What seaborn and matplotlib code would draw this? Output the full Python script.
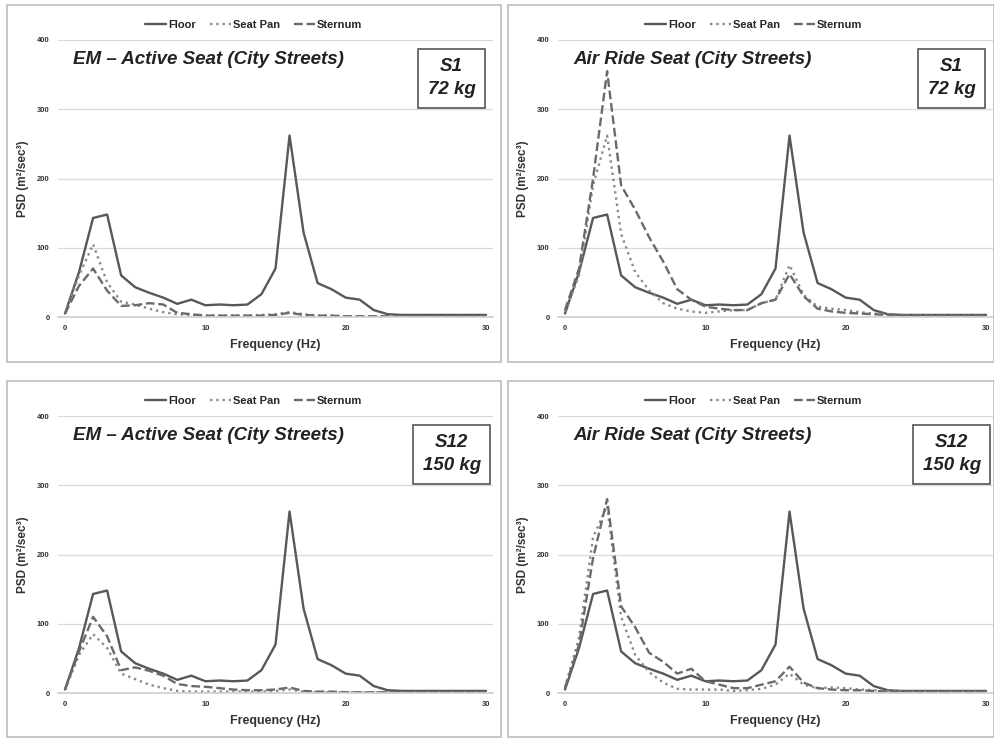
import numpy as np
import pandas as pd
import matplotlib.pyplot as plt
import seaborn as sns
from matplotlib.patches import Rectangle

freq = list(range(31))

floor = [5, 65, 143, 148, 60, 43, 35, 28, 19, 25, 17, 18, 17, 18, 33, 70,
         262, 122, 49, 40, 28, 25, 10, 4, 3, 3, 3, 3, 3, 3, 3]

# S1 72 kg, EM active seat
em_s1_seat = [5, 60, 105, 50, 22, 18, 12, 7, 4, 3, 2, 2, 2, 2, 3, 4,
              7, 4, 2, 2, 1, 1, 1, 1, 1, 1, 1, 1, 1, 1, 1]
em_s1_sternum = [5, 45, 70, 38, 16, 17, 20, 18, 6, 4, 2, 2, 2, 2, 2, 3,
                 6, 3, 2, 2, 1, 1, 1, 1, 1, 1, 1, 1, 1, 1, 1]

# S1 72 kg, air ride seat
air_s1_seat = [8, 60, 190, 262, 120, 65, 38, 20, 12, 8, 6, 8, 10, 10, 20, 25,
               75, 32, 15, 12, 10, 7, 5, 4, 3, 2, 2, 2, 2, 2, 2]
air_s1_sternum = [10, 70, 200, 355, 190, 155, 115, 80, 40, 25, 15, 12, 10, 10, 20, 25,
                  62, 30, 12, 8, 6, 5, 4, 3, 2, 2, 2, 2, 2, 2, 2]

# S12 150 kg, EM active seat
em_s12_seat = [5, 55, 85, 65, 28, 20, 12, 7, 3, 2, 2, 2, 2, 2, 2, 3,
               5, 2, 1, 1, 1, 1, 1, 1, 1, 1, 1, 1, 1, 1, 1]
em_s12_sternum = [5, 60, 110, 82, 33, 37, 32, 25, 13, 10, 9, 7, 5, 4, 4, 5,
                  8, 3, 2, 2, 1, 1, 1, 1, 1, 1, 1, 1, 1, 1, 1]

# S12 150 kg, air ride seat
air_s12_seat = [8, 80, 225, 270, 110, 55, 30, 15, 6, 5, 5, 5, 3, 4, 6, 12,
                28, 12, 7, 8, 7, 5, 4, 3, 2, 2, 2, 2, 2, 2, 2]
air_s12_sternum = [8, 70, 195, 280, 125, 95, 58, 45, 28, 35, 17, 12, 7, 7, 12, 17,
                   38, 15, 7, 5, 4, 4, 3, 2, 2, 2, 2, 2, 2, 2, 2]

panels = [
    ("EM \u2013 Active Seat (City Streets)", "S1\n72 kg", em_s1_seat, em_s1_sternum),
    ("Air Ride Seat (City Streets)", "S1\n72 kg", air_s1_seat, air_s1_sternum),
    ("EM \u2013 Active Seat (City Streets)", "S12\n150 kg", em_s12_seat, em_s12_sternum),
    ("Air Ride Seat (City Streets)", "S12\n150 kg", air_s12_seat, air_s12_sternum),
]

sns.set_theme(style="white")
plt.rcParams['font.family'] = ['Liberation Sans', 'DejaVu Sans']

W, H = 995, 739
fig = plt.figure(figsize=(W / 100, H / 100), dpi=100)
fig.patch.set_facecolor("white")

# pixel boxes: panel frame (x0, y0, x1, y1) and axes (x0, y_top, x1, y_bottom)
frames = [(7, 5, 501, 362), (508, 5, 994, 362), (7, 381, 501, 737), (508, 381, 994, 737)]
axboxes = [(58, 40, 493, 317), (558, 40, 993, 317), (58, 416, 493, 693), (558, 416, 993, 693)]

styles = [("Floor", "-", "#585858", 1.7),
          ("Seat Pan", ":", "#8a8a8a", 1.7),
          ("Sternum", "--", "#6a6a6a", 1.7)]

for (title, subj, seat, sternum), fr, ab in zip(panels, frames, axboxes):
    fig.patches.append(Rectangle((fr[0] / W, 1 - fr[3] / H), (fr[2] - fr[0]) / W,
                                 (fr[3] - fr[1]) / H, transform=fig.transFigure,
                                 fill=False, edgecolor="#bdbdbd", linewidth=1.2))
    ax = fig.add_axes([ab[0] / W, 1 - ab[3] / H, (ab[2] - ab[0]) / W, (ab[3] - ab[1]) / H])
    df = pd.DataFrame({"Frequency": freq, "Floor": floor, "Seat Pan": seat, "Sternum": sternum})
    for name, ls, col, lw in styles:
        sns.lineplot(data=df, x="Frequency", y=name, ax=ax, color=col, linestyle=ls,
                     linewidth=lw, label=name)
    ax.set_xlim(-0.5, 30.5)
    ax.set_ylim(0, 400)
    ax.set_xticks([0, 10, 20, 30])
    ax.set_yticks([0, 100, 200, 300, 400])
    ax.yaxis.grid(True, color="#d9d9d9", linewidth=0.9)
    ax.set_axisbelow(True)
    for s in ["top", "right", "left"]:
        ax.spines[s].set_visible(False)
    ax.spines["bottom"].set_color("#d0d0d0")
    ax.tick_params(axis="both", labelsize=5.5, length=0, pad=6, colors="#333333")
    for lab in ax.get_xticklabels() + ax.get_yticklabels():
        lab.set_fontweight("bold")
    ax.set_xlabel("Frequency (Hz)", fontsize=9, fontweight="bold", color="#333333", labelpad=5)
    ax.set_ylabel("PSD (m\u00b2/sec\u00b3)", fontsize=8.5, fontweight="bold", color="#333333",
                  labelpad=6)
    ax.legend(loc="lower center", bbox_to_anchor=(0.45, 1.0), ncol=3, frameon=False,
              handlelength=1.9, handletextpad=0.2, columnspacing=1.2,
              prop={"weight": "bold", "size": 8})
    ax.text(0.035, 0.93, title, transform=ax.transAxes, fontsize=13.5, fontweight="bold",
            fontstyle="italic", ha="left", va="center", color="#222222")
    ax.text(0.905, 0.862, subj, transform=ax.transAxes, fontsize=13.5, fontweight="bold",
            fontstyle="italic", ha="center", va="center", color="#222222", linespacing=1.5,
            bbox=dict(boxstyle="square,pad=0.5", facecolor="white", edgecolor="#555555",
                      linewidth=1.2))

fig.savefig("out.png", dpi=100)
